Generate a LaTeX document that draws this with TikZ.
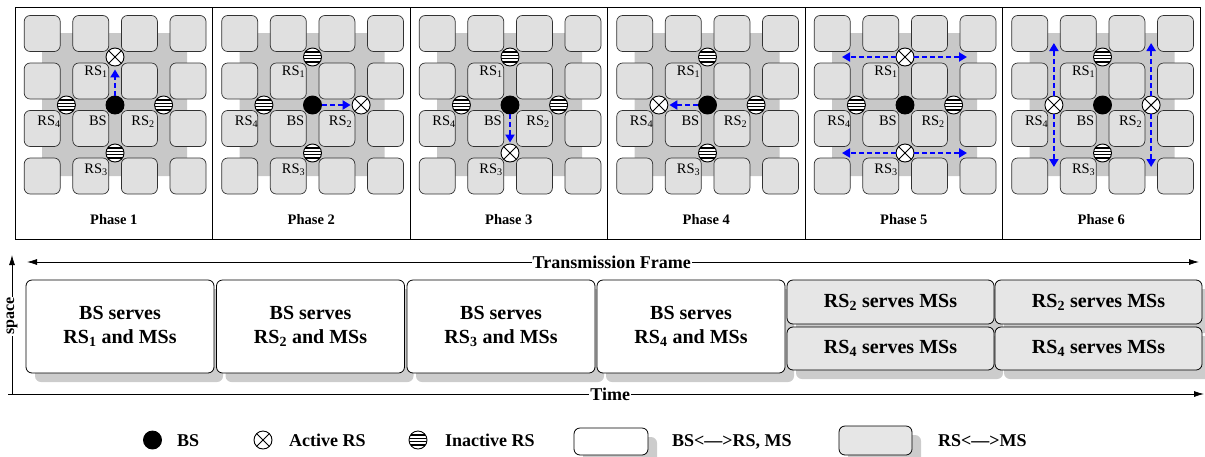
\documentclass[tikz,border=0pt]{standalone}
\usepackage{fontspec}
\setmainfont{Liberation Serif}
\usetikzlibrary{arrows.meta,shadows}

\definecolor{cellfill}{RGB}{224,224,224}
\definecolor{cellline}{RGB}{50,50,50}
\definecolor{zonefill}{RGB}{200,200,200}
\definecolor{boxgray}{RGB}{230,230,230}
\definecolor{shade}{RGB}{204,204,204}
\definecolor{linkblue}{RGB}{0,0,255}

\tikzset{
  panel/.style={draw, line width=1pt, minimum width=197.5pt, minimum height=232pt, inner sep=0pt},
  cell/.style={draw=cellline, fill=cellfill, line width=0.7pt, rounded corners=6pt, minimum size=36pt, inner sep=0pt},
  station/.style={circle, draw, line width=0.9pt, minimum size=18pt, inner sep=0pt},
  bsnode/.style={station, fill=black},
  actrs/.style={station, fill=white, path picture={
      \draw[line width=0.9pt] (path picture bounding box.north west) -- (path picture bounding box.south east)
                              (path picture bounding box.south west) -- (path picture bounding box.north east);}},
  idlers/.style={station, fill=white, path picture={
      \foreach \k in {-5,-1.7,1.7,5}
        \draw[line width=1.3pt] ([yshift=\k pt]path picture bounding box.west) -- ([yshift=\k pt]path picture bounding box.east);}},
  rslabel/.style={font=\fontsize{14.5}{16}\selectfont, inner sep=0pt},
  phaselabel/.style={font=\bfseries\fontsize{14.5}{16}\selectfont, inner sep=0pt},
  link/.style={draw=linkblue, line width=2.2pt, dash pattern=on 5pt off 3pt, shorten >=1pt,
      -{Triangle[length=8pt,width=9pt]}},
  slot/.style={draw, line width=0.8pt, rounded corners=6pt, inner sep=0pt, align=center, fill=white,
      font=\bfseries\fontsize{20}{24}\selectfont,
      drop shadow={shadow xshift=9pt, shadow yshift=-9pt, fill=shade, opacity=1}},
  graysl/.style={slot, fill=boxgray},
  axis/.style={line width=0.8pt, -{Latex[length=10pt,width=6pt]}},
  axislabel/.style={font=\bfseries\fontsize{18}{20}\selectfont, fill=white, inner sep=1pt},
  legtext/.style={font=\bfseries\fontsize{18}{20}\selectfont, inner sep=0pt, anchor=base west},
}

% one phase panel: #1 index, #2 left edge, #3..#6 styles of RS1..RS4
\newcommand{\drawphase}[6]{%
  \begin{scope}[shift={(#2,0)}]
    \node[panel] (frame#1) at (98.75,123) {};
    \fill[zonefill, rounded corners=4pt] (27,33) rectangle (172,176);
    \foreach \i in {0,...,3}{\foreach \j in {0,...,3}{
      \node[cell] (c#1-\i-\j) at ({27.2+48.6*\i},{33.5+47.5*\j}) {};}}
    \node[bsnode] (bs#1) at (100,105) {};
    \node[#3] (ra#1) at (100,57) {};
    \node[#4] (rb#1) at (148.6,105) {};
    \node[#5] (rc#1) at (100,153) {};
    \node[#6] (rd#1) at (51.4,105) {};
    \node[rslabel, anchor=base east] (la#1) at (93,75) {RS\textsubscript{1}};
    \node[rslabel, anchor=base east] (lbs#1) at (92,125) {BS};
    \node[rslabel, anchor=base east] (lb#1) at (140,125) {RS\textsubscript{2}};
    \node[rslabel, anchor=base east] (lc#1) at (93,173) {RS\textsubscript{3}};
    \node[rslabel, anchor=base east] (ld#1) at (46,125) {RS\textsubscript{4}};
    \node[phaselabel, anchor=base] (ph#1) at (98.75,224) {Phase #1};
  \end{scope}}

\begin{document}
\begin{tikzpicture}[x=1pt, y=-1pt]
  \useasboundingbox (0,0) rectangle (1205,456);

  % the six phases
  \drawphase{1}{15}{actrs}{idlers}{idlers}{idlers}
  \drawphase{2}{212.5}{idlers}{actrs}{idlers}{idlers}
  \drawphase{3}{410}{idlers}{idlers}{actrs}{idlers}
  \drawphase{4}{607.5}{idlers}{idlers}{idlers}{actrs}
  \drawphase{5}{805}{actrs}{idlers}{actrs}{idlers}
  \drawphase{6}{1002.5}{idlers}{actrs}{idlers}{actrs}

  % links of phases 1-4
  \draw[link, shorten >=3pt] (bs1) -- (ra1);
  \draw[link] (bs2) -- (rb2);
  \draw[link] (bs3) -- (rc3);
  \draw[link] (bs4) -- (rd4);

  % links of phase 5
  \coordinate (q5a) at (841,57);  \coordinate (q5b) at (968,57);
  \coordinate (q5c) at (841,153); \coordinate (q5d) at (968,153);
  \draw[link] (ra5) -- (q5a);
  \draw[link] (ra5) -- (q5b);
  \draw[link] (rc5) -- (q5c);
  \draw[link] (rc5) -- (q5d);

  % links of phase 6
  \coordinate (q6a) at (1053.9,42);  \coordinate (q6b) at (1053.9,168);
  \coordinate (q6c) at (1151.1,42);  \coordinate (q6d) at (1151.1,168);
  \draw[link] (rd6) -- (q6a);
  \draw[link] (rd6) -- (q6b);
  \draw[link] (rb6) -- (q6c);
  \draw[link] (rb6) -- (q6d);

  % axes
  \coordinate (t0) at (8,394);   \coordinate (t1) at (1204,394);
  \coordinate (s0) at (12,394);  \coordinate (s1) at (12,255);
  \coordinate (f0) at (27,262);  \coordinate (f1) at (1199,262);
  \draw[axis] (t0) -- (t1) node[axislabel, pos=0.5035] (timelbl) {Time};
  \draw[axis] (s0) -- (s1) node[axislabel, pos=0.56, rotate=90, font=\bfseries\fontsize{16}{18}\selectfont] (spacelbl) {space};
  \draw[axis, {Latex[length=10pt,width=6pt]}-{Latex[length=10pt,width=6pt]}] (f0) -- (f1)
       node[axislabel, pos=0.499] (framelbl) {Transmission Frame};

  % time slots
  \node[slot, minimum width=188pt, minimum height=93pt] (s1box) at (120,326.5) {BS serves\\RS\textsubscript{1} and MSs};
  \node[slot, minimum width=188pt, minimum height=93pt] (s2box) at (310.5,326.5) {BS serves\\RS\textsubscript{2} and MSs};
  \node[slot, minimum width=188pt, minimum height=93pt] (s3box) at (501,326.5) {BS serves\\RS\textsubscript{3} and MSs};
  \node[slot, minimum width=188pt, minimum height=93pt] (s4box) at (691,326.5) {BS serves\\RS\textsubscript{4} and MSs};
  \node[graysl, minimum width=207pt, minimum height=44pt] (s5up) at (890.5,302) {RS\textsubscript{2} serves MSs};
  \node[graysl, minimum width=207pt, minimum height=43pt] (s5lo) at (890.5,348.5) {RS\textsubscript{4} serves MSs};
  \node[graysl, minimum width=207pt, minimum height=44pt] (s6up) at (1098.5,302) {RS\textsubscript{2} serves MSs};
  \node[graysl, minimum width=207pt, minimum height=43pt] (s6lo) at (1098.5,348.5) {RS\textsubscript{4} serves MSs};

  % legend
  \node[bsnode] (kbs) at (152.5,440) {};
  \node[legtext] (kbst) at (177,446) {BS};
  \node[actrs] (kact) at (263,440) {};
  \node[legtext] (kactt) at (289,446) {Active RS};
  \node[idlers] (kidl) at (418,440) {};
  \node[legtext] (kidlt) at (445,446) {Inactive RS};
  \node[slot, minimum width=74pt, minimum height=27pt] (kwhite) at (611,441.5) {};
  \node[legtext] (kwhitet) at (672,446) {BS<—>RS, MS};
  \node[graysl, minimum width=73pt, minimum height=29pt] (kgray) at (875.5,440.5) {};
  \node[legtext] (kgrayt) at (938,446) {RS<—>MS};
\end{tikzpicture}
\end{document}
